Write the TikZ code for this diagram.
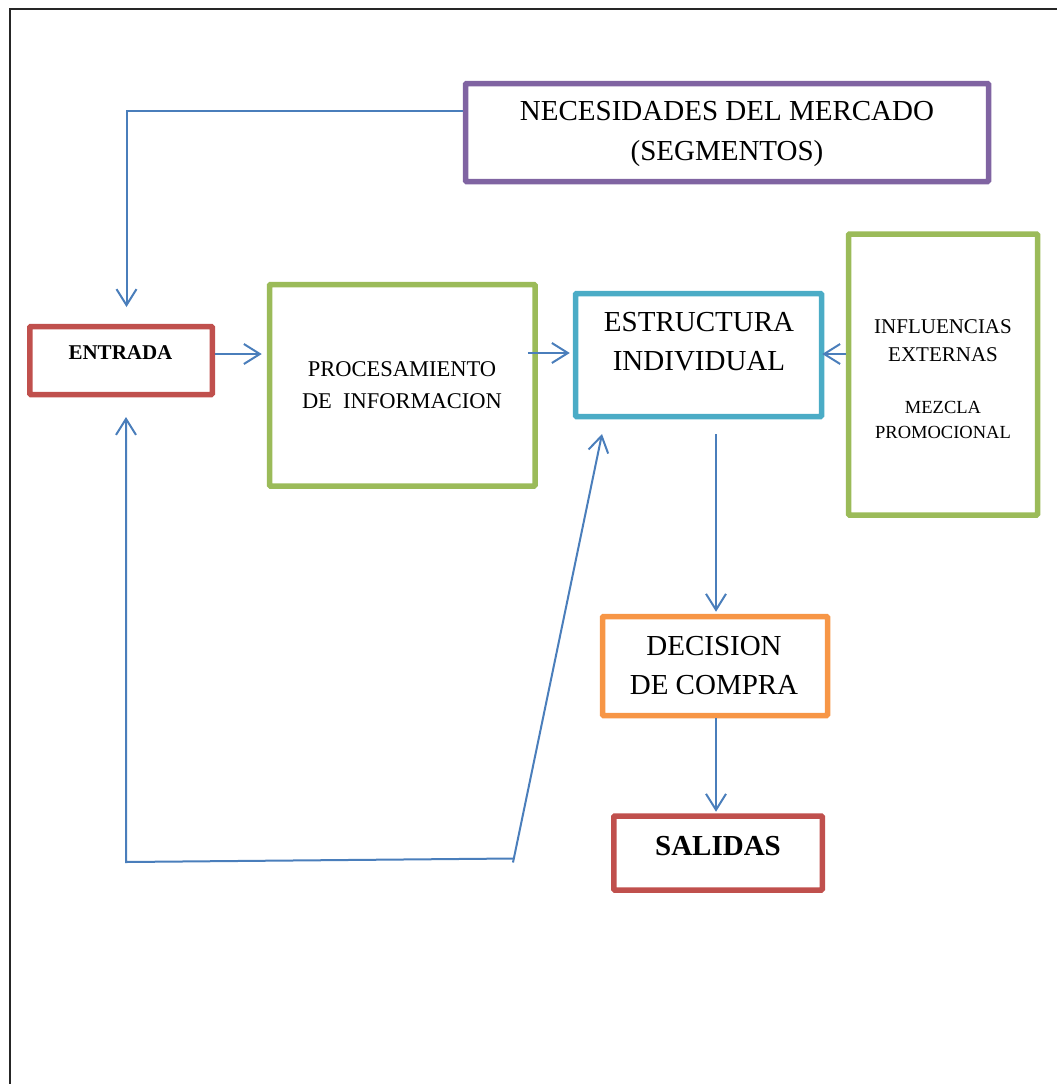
\documentclass[tikz,border=0pt]{standalone}
\usepackage{fontspec}
\setmainfont{Liberation Serif}
\usetikzlibrary{arrows.meta}
\definecolor{cpurple}{HTML}{8064A2}
\definecolor{cred}{HTML}{C0504D}
\definecolor{cgreen}{HTML}{9BBB59}
\definecolor{ccyan}{HTML}{4BACC6}
\definecolor{corange}{HTML}{F79646}
\definecolor{cblue}{HTML}{4A7EBB}
\begin{document}
\begin{tikzpicture}[x=1pt,y=-1pt,
  box/.style={draw, line width=5.5pt, rounded corners=1pt, inner sep=0pt},
  txt/.style={inner sep=0pt, anchor=north, align=center, text=black},
  conn/.style={draw=cblue, line width=2pt},
  arr/.style={conn, -{Straight Barb[length=16pt,width=20pt]}},
]
\useasboundingbox (0,0) rectangle (1057,1084);
% page frame
\draw[line width=1.3pt, black!85] (10,1084) -- (10,9) -- (1057,9);

% boxes
\node[box, draw=cpurple, minimum width=523pt, minimum height=98pt] (nec) at (727,132.5) {};
\node[txt, font=\fontsize{29}{39.5}\selectfont] (necT) at (727,101.5) {NECESIDADES DEL MERCADO\\(SEGMENTOS)};

\node[box, draw=cred, minimum width=182.5pt, minimum height=68pt] (ent) at (121,360.5) {};
\node[txt, font=\bfseries\fontsize{21}{25}\selectfont] (entT) at (120.5,345) {ENTRADA};

\node[box, draw=cgreen, minimum width=265.5pt, minimum height=201.5pt] (proc) at (402.25,385.25) {};
\node[txt, font=\fontsize{22.5}{32}\selectfont] (procT) at (402,361) {PROCESAMIENTO\\DE~~INFORMACION};

\node[box, draw=ccyan, minimum width=246pt, minimum height=123pt] (estr) at (698.5,355) {};
\node[txt, font=\fontsize{29}{39}\selectfont] (estrT) at (699,311.7) {ESTRUCTURA\\INDIVIDUAL};

\node[box, draw=cgreen, minimum width=189pt, minimum height=281pt] (infl) at (943,374.5) {};
\node[txt, font=\fontsize{21}{28}\selectfont] (inflT) at (943,319) {INFLUENCIAS\\EXTERNAS};
\node[txt, font=\fontsize{18.5}{25}\selectfont] (mezT) at (943,401) {MEZCLA\\PROMOCIONAL};

\node[box, draw=corange, minimum width=225pt, minimum height=99pt] (dec) at (715,666) {};
\node[txt, font=\fontsize{29}{39}\selectfont] (decT) at (714,636) {DECISION\\DE COMPRA};

\node[box, draw=cred, minimum width=208.5pt, minimum height=74pt] (sal) at (718,853) {};
\node[txt, font=\bfseries\fontsize{29}{35}\selectfont] (salT) at (718,835.7) {SALIDAS};

% connectors
\coordinate (tl) at (126.5,110.5);
\coordinate (tlend) at (126.5,307);
\draw[arr] (nec.west |- tl) -- (tl) -- (tlend);

\coordinate (y354) at (0,354);
\coordinate (y353) at (0,353);
\draw[arr] (ent.east |- y354) -- ([xshift=-5pt]proc.west |- y354);
\draw[arr] ([xshift=-10pt]proc.east |- y353) -- ([xshift=-3pt]estr.west |- y353);
\draw[arr] (infl.west |- y354) -- ([xshift=-2pt]estr.east |- y354);

\coordinate (dtop) at (716,434);
\draw[arr] (dtop) -- ([yshift=2pt]dtop |- dec.north);
\draw[arr] (dec.south -| dtop) -- ([yshift=1.5pt]sal.north -| dtop);

\coordinate (f1) at (513,858.5);
\coordinate (f2) at (126,862);
\coordinate (f3) at (126,417);
\draw[arr] (f1) -- (f2) -- (f3);
\coordinate (f4) at (513,862.5);
\coordinate (f5) at (602,434);
\draw[arr] (f4) -- (f5);
\end{tikzpicture}
\end{document}
